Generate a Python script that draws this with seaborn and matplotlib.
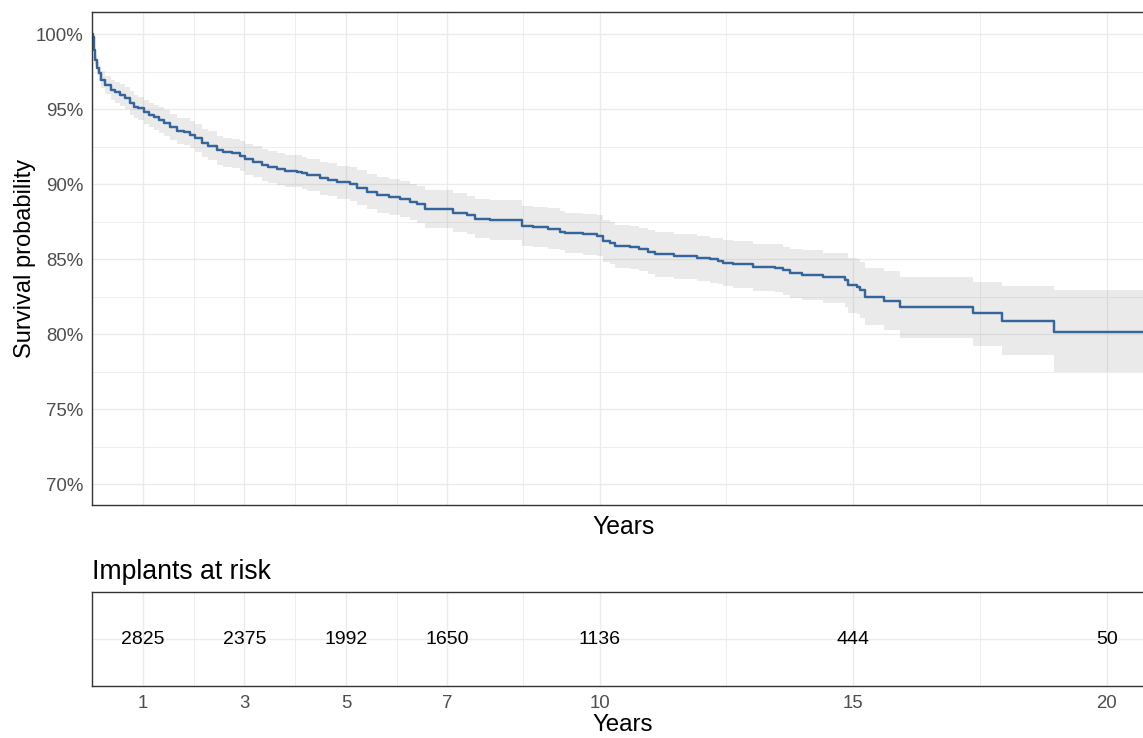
import matplotlib
matplotlib.use("Agg")
import matplotlib.pyplot as plt
import numpy as np
import pandas as pd
import seaborn as sns
from matplotlib.ticker import FixedLocator, FuncFormatter

# Kaplan-Meier estimate (years, survival %) with pointwise 95% band
km_time = [0.00, 0.01, 0.03, 0.06, 0.09, 0.13, 0.17, 0.26, 0.36, 0.45,
           0.55, 0.65, 0.75, 0.82, 0.91, 1.01, 1.11, 1.21, 1.31, 1.41,
           1.54, 1.67, 1.80, 1.93, 2.03, 2.16, 2.29, 2.45, 2.58, 2.75,
           2.91, 3.01, 3.17, 3.34, 3.47, 3.64, 3.80, 4.03, 4.13, 4.23,
           4.49, 4.65, 4.82, 5.08, 5.21, 5.41, 5.61, 5.84, 6.07, 6.26,
           6.40, 6.56, 7.12, 7.38, 7.55, 7.84, 8.47, 8.69, 8.99, 9.22,
           9.32, 9.68, 9.94, 10.07, 10.21, 10.31, 10.60, 10.77, 10.96, 11.09,
           11.46, 11.92, 12.18, 12.34, 12.44, 12.64, 13.03, 13.46, 13.62, 13.76,
           13.99, 14.41, 14.84, 14.90, 15.07, 15.14, 15.23, 15.60, 15.92, 17.37,
           17.93, 18.96, 20.95]
km_surv = [100.0, 99.85, 98.97, 98.3, 97.75, 97.41, 96.97, 96.63, 96.3, 96.15,
           95.97, 95.75, 95.41, 95.19, 95.08, 94.85, 94.63, 94.48, 94.3, 94.08,
           93.81, 93.57, 93.52, 93.3, 93.08, 92.75, 92.59, 92.3, 92.15, 92.08,
           91.92, 91.68, 91.52, 91.3, 91.15, 91.03, 90.9, 90.85, 90.75, 90.63,
           90.41, 90.3, 90.15, 90.03, 89.79, 89.52, 89.3, 89.15, 89.01, 88.85,
           88.7, 88.38, 88.12, 87.97, 87.7, 87.62, 87.23, 87.15, 87.05, 86.85,
           86.74, 86.68, 86.59, 86.25, 86.12, 85.9, 85.81, 85.68, 85.52, 85.35,
           85.23, 85.08, 85.03, 84.9, 84.79, 84.7, 84.52, 84.46, 84.3, 84.1,
           83.99, 83.81, 83.63, 83.3, 83.19, 82.97, 82.52, 82.25, 81.85, 81.41,
           80.92, 80.15, 80.15]
km_lower = [100.0, 99.75, 98.7, 97.95, 97.3, 96.9, 96.4, 96.0, 95.6, 95.45,
            95.25, 95.0, 94.65, 94.4, 94.3, 94.05, 93.8, 93.65, 93.45, 93.2,
            92.95, 92.7, 92.65, 92.4, 92.15, 91.8, 91.65, 91.3, 91.15, 91.1,
            90.9, 90.65, 90.5, 90.25, 90.1, 89.95, 89.85, 89.8, 89.7, 89.55,
            89.3, 89.2, 89.05, 88.9, 88.65, 88.35, 88.1, 87.95, 87.8, 87.6,
            87.45, 87.1, 86.85, 86.7, 86.4, 86.3, 85.9, 85.8, 85.7, 85.6,
            85.4, 85.3, 85.2, 84.85, 84.7, 84.45, 84.35, 84.2, 84.05, 83.85,
            83.7, 83.55, 83.45, 83.35, 83.2, 83.1, 82.9, 82.8, 82.65, 82.45,
            82.3, 82.1, 81.85, 81.45, 81.35, 81.1, 80.6, 80.3, 79.75, 79.2,
            78.6, 77.5, 77.5]
km_upper = [100.0, 99.95, 99.25, 98.65, 98.2, 97.9, 97.55, 97.25, 96.95, 96.85,
            96.7, 96.5, 96.2, 95.95, 95.85, 95.65, 95.45, 95.3, 95.15, 94.95,
            94.7, 94.45, 94.4, 94.2, 94.0, 93.7, 93.55, 93.25, 93.1, 93.05,
            92.9, 92.7, 92.55, 92.35, 92.2, 92.1, 91.95, 91.95, 91.85, 91.7,
            91.5, 91.4, 91.25, 91.15, 90.95, 90.7, 90.5, 90.35, 90.2, 90.05,
            89.9, 89.6, 89.4, 89.25, 89.0, 88.95, 88.55, 88.5, 88.4, 88.2,
            88.1, 88.05, 87.95, 87.65, 87.5, 87.3, 87.25, 87.1, 86.95, 86.8,
            86.7, 86.55, 86.45, 86.4, 86.3, 86.2, 86.05, 86.0, 85.85, 85.7,
            85.6, 85.45, 85.4, 85.1, 85.0, 84.8, 84.45, 84.2, 83.85, 83.5,
            83.2, 82.95, 82.95]

# Numbers at risk
risk_years = [1, 3, 5, 7, 10, 15, 20]
risk_counts = [2825, 2375, 1992, 1650, 1136, 444, 50]

x_breaks = [1, 3, 5, 7, 10, 15, 20]
x_minor = [2, 4, 6, 8.5, 12.5, 17.5]
y_breaks = [70, 75, 80, 85, 90, 95, 100]
y_minor = [72.5, 77.5, 82.5, 87.5, 92.5, 97.5]

km = pd.DataFrame({"Years": km_time, "surv": km_surv,
                   "lower": km_lower, "upper": km_upper})

sns.set_style("white")
plt.rcParams["font.family"] = ["Liberation Sans", "DejaVu Sans"]

LINE = "#35659A"
BORDER = "#333333"
GRID = "#EBEBEB"
TICKTXT = "#4D4D4D"

W, H = 1143, 738
fig = plt.figure(figsize=(W / 100, H / 100), dpi=100)


def panel(left, top, right, bottom):
    return fig.add_axes([left / W, 1 - bottom / H, (right - left) / W, (bottom - top) / H])


ax = panel(92.3, 11.7, 1154, 505)
ax_risk = panel(92.3, 592.3, 1154, 686)

XMAX = 20.93


def style(a):
    a.set_axisbelow(True)
    a.grid(which="major", color=GRID, lw=0.95)
    a.grid(which="minor", color=GRID, lw=0.6)
    for s in a.spines.values():
        s.set_color(BORDER)
        s.set_linewidth(1.0)
    a.xaxis.set_major_locator(FixedLocator(x_breaks))
    a.xaxis.set_minor_locator(FixedLocator(x_minor))
    a.tick_params(which="major", length=3.5, width=0.8, color=BORDER,
                  labelcolor=TICKTXT, labelsize=13.4, pad=3)
    a.tick_params(which="minor", length=0)
    a.set_xlim(0, XMAX)


# Survival panel
style(ax)
ax.fill_between(km["Years"], km["lower"], km["upper"], step="post",
                facecolor="#808080", alpha=0.16, lw=0)
sns.lineplot(data=km, x="Years", y="surv", ax=ax, color=LINE, lw=1.75,
             drawstyle="steps-post", estimator=None)
ax.set_ylim(68.63, 101.52)
ax.yaxis.set_major_locator(FixedLocator(y_breaks))
ax.yaxis.set_minor_locator(FixedLocator(y_minor))
ax.yaxis.set_major_formatter(FuncFormatter(lambda v, _: f"{v:.0f}%"))
ax.tick_params(axis="x", labelbottom=False)
ax.set_xlabel("Years", fontsize=17.8, color="black")
ax.xaxis.set_label_coords(0.5, -0.02)
ax.set_ylabel("Survival probability", fontsize=17, color="black")
ax.yaxis.set_label_coords(-0.053, 0.5)

# Risk table panel
style(ax_risk)
ax_risk.set_ylim(0, 1)
ax_risk.yaxis.set_major_locator(FixedLocator([0.5]))
ax_risk.tick_params(axis="y", left=False, labelleft=False)
for yr, n in zip(risk_years, risk_counts):
    ax_risk.text(yr, 0.5, str(n), ha="center", va="center",
                 fontsize=14, color="black")
ax_risk.set_xlabel("Years", fontsize=17.4, color="black")
ax_risk.xaxis.set_label_coords(0.5, -0.30)
ax_risk.set_ylabel("")
ax_risk.set_title("Implants at risk", loc="left", fontsize=19.2,
                  color="black", pad=9.4)

fig.savefig("out.png", dpi=100)
